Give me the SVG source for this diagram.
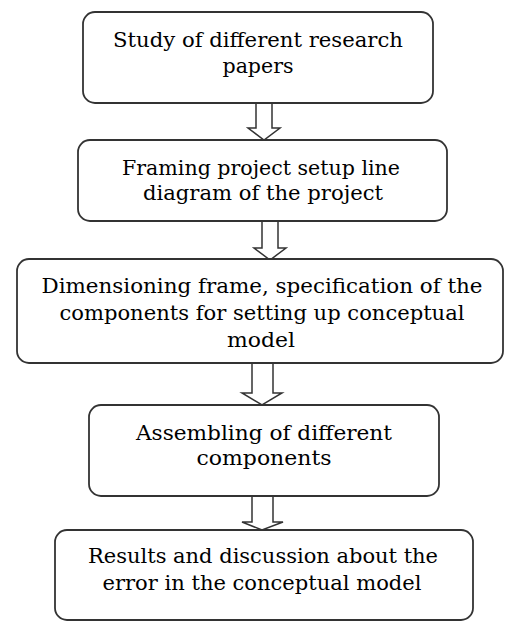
<svg xmlns="http://www.w3.org/2000/svg" width="505" height="622" viewBox="0 0 505 622">
<style>
.box{fill:#fff;stroke:#333;stroke-width:1.8}
.arr{fill:#fff;stroke:#333;stroke-width:1.5;stroke-linejoin:miter}
text{font-family:"DejaVu Serif","Liberation Serif",serif;font-size:19.5px;fill:#000;text-anchor:middle}
</style>
<rect width="505" height="622" fill="#fff"/>
<g id="connectors">
<polygon class="arr" points="256,103 272,103 272,128 280,128 264,140 248,128 256,128"/>
<polygon class="arr" points="262,221 278,221 278,248 286,248 270,260 254,248 262,248"/>
<polygon class="arr" points="252,363 273,363 273,393 282,393 262,405 242,393 252,393"/>
<polygon class="arr" points="252,496 273,496 273,522 283,522 262,530 242,522 252,522"/>
</g>
<g id="n1">
<rect class="box" x="83" y="12" width="350" height="91" rx="12"/>
<text x="258" y="47" textLength="290" lengthAdjust="spacingAndGlyphs">Study of different research</text>
<text x="258" y="73" textLength="71" lengthAdjust="spacingAndGlyphs">papers</text>
</g>
<g id="n2">
<rect class="box" x="78" y="140" width="369" height="81" rx="12"/>
<text x="261" y="175" textLength="278" lengthAdjust="spacingAndGlyphs">Framing project setup line</text>
<text x="263" y="200" textLength="240" lengthAdjust="spacingAndGlyphs">diagram of the project</text>
</g>
<g id="n3">
<rect class="box" x="17" y="259" width="486" height="104" rx="12"/>
<text x="262" y="293" textLength="441" lengthAdjust="spacingAndGlyphs">Dimensioning frame, specification of the</text>
<text x="262" y="320" textLength="405" lengthAdjust="spacingAndGlyphs">components for setting up conceptual</text>
<text x="261" y="347" textLength="68" lengthAdjust="spacingAndGlyphs">model</text>
</g>
<g id="n4">
<rect class="box" x="89" y="405" width="350" height="91" rx="12"/>
<text x="264" y="440" textLength="256" lengthAdjust="spacingAndGlyphs">Assembling of different</text>
<text x="264" y="465" textLength="135" lengthAdjust="spacingAndGlyphs">components</text>
</g>
<g id="n5">
<rect class="box" x="55" y="530" width="418" height="90" rx="12"/>
<text x="263" y="563" textLength="350" lengthAdjust="spacingAndGlyphs">Results and discussion about the</text>
<text x="262" y="590" textLength="319" lengthAdjust="spacingAndGlyphs">error in the conceptual model</text>
</g>
</svg>
